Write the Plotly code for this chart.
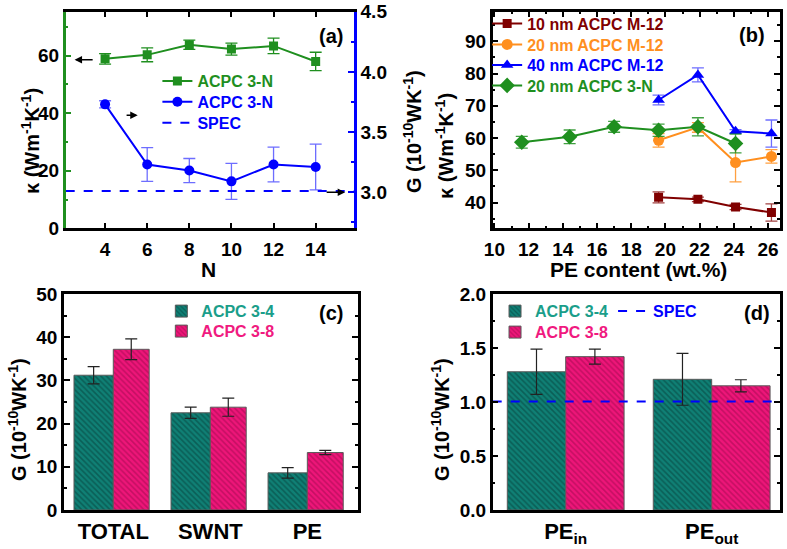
import plotly.graph_objects as go

W, H = 787, 549

# ---------------- data ----------------
# Panel (a)
n_vals = [4, 6, 8, 10, 12, 14]
kappa_a = [58.9, 60.3, 63.8, 62.3, 63.4, 58.0]
kappa_a_err = [1.8, 2.4, 1.6, 2.1, 2.7, 3.2]
g_a = [3.73, 3.23, 3.18, 3.09, 3.23, 3.21]
g_a_err = [0.03, 0.14, 0.10, 0.15, 0.145, 0.19]
spec_g_a = 3.01

# Panel (b)
pe_3n = [11.6, 14.4, 17.0, 19.6, 21.9, 24.1]
kappa_3n = [58.7, 60.4, 63.5, 62.4, 63.5, 58.3]
kappa_3n_err = [1.8, 2.1, 1.7, 1.9, 2.8, 2.9]
pe_m12 = [19.6, 21.9, 24.1, 26.2]
kappa_10nm = [41.6, 41.0, 38.6, 36.9]
kappa_10nm_err = [1.7, 0.7, 0.8, 2.7]
kappa_20nm = [59.3, 63.3, 52.4, 54.3]
kappa_20nm_err = [2.1, 1.5, 6.0, 2.1]
kappa_40nm = [71.8, 79.6, 62.1, 61.4]
kappa_40nm_err = [1.5, 2.2, 0.5, 4.2]

# Panel (c)
cats_c = ["TOTAL", "SWNT", "PE"]
g_c_34 = [31.2, 22.5, 8.6]
g_c_34_err = [2.0, 1.3, 1.2]
g_c_38 = [37.2, 23.8, 13.3]
g_c_38_err = [2.4, 2.1, 0.5]

# Panel (d)
cats_d = ["PE<sub>in</sub>", "PE<sub>out</sub>"]
g_d_34 = [1.28, 1.21]
g_d_34_err = [0.21, 0.24]
g_d_38 = [1.42, 1.15]
g_d_38_err = [0.07, 0.056]
spec_g_d = 1.005

# ---------------- styles ----------------
GREEN = "#1F8F1F"
BLUE = "#0000FF"
DRED = "#800000"
ORANGE = "#FF8F1F"
TEAL = "#0F8075"
TEAL_DK = "#063E39"
TEAL_TXT = "#1A9E8A"
PINK = "#EE1579"
PINK_DK = "#9A0A4C"
PINK_TXT = "#F01A7F"
FAM = "Liberation Sans, Arial, sans-serif"
TICKF = dict(family=FAM, size=19, color="black", weight="bold")
LEGF = dict(family=FAM, size=16, color="black", weight="bold")

xr_a = [2.13, 15.82]
xr_b = [9.9, 26.7]
xr_c = [-0.508, 2.519]
xr_d = [-0.5, 1.468]


def px(x):
    return x / W


def py(y):
    return 1 - y / H


def col(c, t):
    return f'<span style="color:{c}">{t}</span>'


fig = go.Figure()

# ---- (a) ----
fig.add_trace(go.Scatter(
    x=n_vals, y=kappa_a, xaxis="x", yaxis="y", mode="lines+markers",
    name=col(GREEN, "ACPC 3-N"), legend="legend",
    line=dict(color=GREEN, width=2), marker=dict(symbol="square", size=9, color=GREEN),
    error_y=dict(type="data", array=kappa_a_err, color=GREEN, thickness=1.3, width=6)))
fig.add_trace(go.Scatter(
    x=n_vals, y=g_a, xaxis="x", yaxis="y2", mode="lines+markers",
    name=col(BLUE, "ACPC 3-N"), legend="legend2",
    line=dict(color=BLUE, width=2), marker=dict(symbol="circle", size=10, color=BLUE),
    error_y=dict(type="data", array=g_a_err, color="rgba(60,60,255,0.75)", thickness=1.3, width=6)))
fig.add_trace(go.Scatter(
    x=xr_a, y=[spec_g_a, spec_g_a], xaxis="x", yaxis="y2", mode="lines",
    name=col(BLUE, "SPEC"), legend="legend3",
    line=dict(color=BLUE, width=2, dash="dash")))

# ---- (b) ----
fig.add_trace(go.Scatter(
    x=pe_m12, y=kappa_10nm, xaxis="x2", yaxis="y3", mode="lines+markers",
    name=col(DRED, "10 nm ACPC M-12"), legend="legend4",
    line=dict(color=DRED, width=2), marker=dict(symbol="square", size=9, color=DRED),
    error_y=dict(type="data", array=kappa_10nm_err, color="rgba(128,0,0,0.75)", thickness=1.3, width=6)))
fig.add_trace(go.Scatter(
    x=pe_m12, y=kappa_20nm, xaxis="x2", yaxis="y3", mode="lines+markers",
    name=col(ORANGE, "20 nm ACPC M-12"), legend="legend5",
    line=dict(color=ORANGE, width=2), marker=dict(symbol="circle", size=11, color=ORANGE),
    error_y=dict(type="data", array=kappa_20nm_err, color="rgba(255,143,31,0.85)", thickness=1.3, width=6)))
fig.add_trace(go.Scatter(
    x=pe_m12, y=kappa_40nm, xaxis="x2", yaxis="y3", mode="lines+markers",
    name=col(BLUE, "40 nm ACPC M-12"), legend="legend6",
    line=dict(color=BLUE, width=2), marker=dict(symbol="triangle-up", size=11, color=BLUE),
    error_y=dict(type="data", array=kappa_40nm_err, color="rgba(60,60,255,0.75)", thickness=1.3, width=6)))
fig.add_trace(go.Scatter(
    x=pe_3n, y=kappa_3n, xaxis="x2", yaxis="y3", mode="lines+markers",
    name=col(GREEN, "20 nm ACPC 3-N"), legend="legend7",
    line=dict(color=GREEN, width=2), marker=dict(symbol="diamond", size=12, color=GREEN),
    error_y=dict(type="data", array=kappa_3n_err, color="rgba(31,143,31,0.85)", thickness=1.3, width=6)))

# ---- (c) ----
bar_line = dict(color="#5a5a5a", width=1)
fig.add_trace(go.Bar(
    x=list(range(len(cats_c))), y=g_c_34, xaxis="x3", yaxis="y4",
    name=col(TEAL_TXT, "ACPC 3-4"), legend="legend8",
    offset=-0.405, width=0.405,
    marker=dict(color=TEAL, line=bar_line,
                pattern=dict(shape="\\", fgcolor=TEAL_DK, bgcolor=TEAL, size=4, solidity=0.4)),
    error_y=dict(type="data", array=g_c_34_err, color="#222222", thickness=1.2, width=6)))
fig.add_trace(go.Bar(
    x=list(range(len(cats_c))), y=g_c_38, xaxis="x3", yaxis="y4",
    name=col(PINK_TXT, "ACPC 3-8"), legend="legend9",
    offset=0.0, width=0.37,
    marker=dict(color=PINK, line=bar_line,
                pattern=dict(shape="\\", fgcolor=PINK_DK, bgcolor=PINK, size=4, solidity=0.4)),
    error_y=dict(type="data", array=g_c_38_err, color="#222222", thickness=1.2, width=6)))

# ---- (d) ----
fig.add_trace(go.Bar(
    x=list(range(len(cats_d))), y=g_d_34, xaxis="x4", yaxis="y5",
    name=col(TEAL_TXT, "ACPC 3-4"), legend="legend10",
    offset=-0.4, width=0.4,
    marker=dict(color=TEAL, line=bar_line,
                pattern=dict(shape="\\", fgcolor=TEAL_DK, bgcolor=TEAL, size=4, solidity=0.4)),
    error_y=dict(type="data", array=g_d_34_err, color="#222222", thickness=1.2, width=6)))
fig.add_trace(go.Bar(
    x=list(range(len(cats_d))), y=g_d_38, xaxis="x4", yaxis="y5",
    name=col(PINK_TXT, "ACPC 3-8"), legend="legend11",
    offset=0.0, width=0.4,
    marker=dict(color=PINK, line=bar_line,
                pattern=dict(shape="\\", fgcolor=PINK_DK, bgcolor=PINK, size=4, solidity=0.4)),
    error_y=dict(type="data", array=g_d_38_err, color="#222222", thickness=1.2, width=6)))
fig.add_trace(go.Scatter(
    x=xr_d, y=[spec_g_d, spec_g_d], xaxis="x4", yaxis="y5", mode="lines",
    name=col(BLUE, "SPEC"), legend="legend12",
    line=dict(color=BLUE, width=2, dash="dash")))

# ---------------- axes ----------------
common = dict(showgrid=False, zeroline=False, ticks="inside", tickfont=TICKF,
              linewidth=2.5, ticklen=6, tickwidth=2, showline=True, automargin=False)

dom_a_x = [px(65.7), px(354)]
dom_b_x = [px(492.7), px(780)]
dom_c_x = [px(64), px(357.7)]
dom_top_y = [py(228.3), py(11.7)]
dom_bot_y = [py(510), py(294)]

fig.update_layout(
    xaxis=dict(common, domain=dom_a_x, anchor="y", range=xr_a, tickvals=n_vals,
               linecolor="black", tickcolor="black", mirror="ticks", ticklabelstandoff=2),
    yaxis=dict(common, domain=dom_top_y, anchor="x", range=[0, 75.3], dtick=20,
               linecolor=GREEN, tickcolor=GREEN,
               minor=dict(dtick=10, ticks="inside", ticklen=3, tickcolor=GREEN, tickwidth=2)),
    yaxis2=dict(common, overlaying="y", side="right", anchor="x", range=[2.7, 4.5], dtick=0.5,
                tickformat=".1f", linecolor=BLUE, tickcolor=BLUE,
                minor=dict(dtick=0.25, ticks="inside", ticklen=3, tickcolor=BLUE, tickwidth=2)),
    xaxis2=dict(common, domain=dom_b_x, anchor="y3", range=xr_b, dtick=2,
                linecolor="black", tickcolor="black", mirror="ticks", ticklabelstandoff=2,
                minor=dict(dtick=1, ticks="inside", ticklen=3, tickwidth=2)),
    yaxis3=dict(common, domain=dom_top_y, anchor="x2", range=[32, 99.2], dtick=10,
                linecolor="black", tickcolor="black", mirror="ticks",
                minor=dict(dtick=5, ticks="inside", ticklen=3, tickwidth=2)),
    xaxis3=dict(common, domain=dom_c_x, anchor="y4", range=xr_c,
                tickvals=list(range(len(cats_c))), ticktext=cats_c, ticks="",
                tickfont=dict(TICKF, size=22), ticklabelstandoff=0,
                linecolor="black", mirror=True),
    yaxis4=dict(common, domain=dom_bot_y, anchor="x3", range=[0, 50], dtick=10,
                linecolor="black", tickcolor="black", mirror="ticks",
                minor=dict(dtick=5, ticks="inside", ticklen=3, tickwidth=2)),
    xaxis4=dict(common, domain=dom_b_x, anchor="y5", range=xr_d,
                tickvals=list(range(len(cats_d))), ticktext=cats_d, ticks="",
                tickfont=dict(TICKF, size=22), ticklabelstandoff=0,
                linecolor="black", mirror=True),
    yaxis5=dict(common, domain=dom_bot_y, anchor="x4", range=[0, 2.0], dtick=0.5,
                tickformat=".1f", linecolor="black", tickcolor="black", mirror="ticks",
                minor=dict(dtick=0.25, ticks="inside", ticklen=3, tickwidth=2)),
)

# one legend per row, placed at the row centres of the reference
leg_common = dict(font=LEGF, bgcolor="rgba(0,0,0,0)", borderwidth=0,
                  xanchor="left", yanchor="top", itemwidth=30)
ROW_OFF = 17.5
leg_rows = {
    "legend": (0.2, 81.7), "legend2": (0.2, 102.3), "legend3": (0.2, 123.3),
    "legend4": (0.619, 24), "legend5": (0.619, 45), "legend6": (0.619, 65.7),
    "legend7": (0.619, 86),
    "legend8": (0.205, 311.7), "legend9": (0.205, 331.7),
    "legend10": (0.629, 311.7), "legend11": (0.629, 332.7),
    "legend12": (0.779, 311.7),
}
fig.update_layout({k: dict(leg_common, x=v[0], y=py(v[1] - ROW_OFF)) for k, v in leg_rows.items()})

# ---------------- annotations ----------------
ann = []
TF = dict(family=FAM, size=20, color="black", weight="bold")


def lab(text, x, y, size=20, angle=0):
    ann.append(dict(text=text, x=px(x), y=py(y), xref="paper", yref="paper",
                    showarrow=False, textangle=angle, xanchor="center", yanchor="middle",
                    font=dict(TF, size=size)))


lab("(a)", 331, 36, 20)
lab("(b)", 752, 35, 20)
lab("(c)", 331, 313, 20)
lab("(d)", 757, 313, 20)
lab("N", 208, 269, 21)
lab("PE content (wt.%)", 638, 269, 21)
lab("κ (Wm<sup>-1</sup>K<sup>-1</sup>)", 30, 141, 20, -90)
lab("G (10<sup>-10</sup>WK<sup>-1</sup>)", 412, 132, 20, -90)
lab("κ (Wm<sup>-1</sup>K<sup>-1</sup>)", 445, 146, 20, -90)
lab("G (10<sup>-10</sup>WK<sup>-1</sup>)", 17, 420, 20, -90)
lab("G (10<sup>-10</sup>WK<sup>-1</sup>)", 440, 420, 20, -90)

# arrows in (a)
arrow = dict(text="", showarrow=True, arrowhead=2, arrowsize=1, arrowwidth=1.5,
             arrowcolor="black")
ann.append(dict(arrow, xref="x", yref="y", axref="x", ayref="y",
                x=2.55, y=58.6, ax=3.48, ay=58.6))
ann.append(dict(arrow, xref="x", yref="y2", axref="x", ayref="y2",
                x=5.55, y=3.64, ax=4.95, ay=3.64))
ann.append(dict(arrow, xref="x", yref="y2", axref="x", ayref="y2",
                x=15.4, y=3.0, ax=14.45, ay=3.0))

fig.update_layout(
    annotations=ann,
    width=W, height=H,
    margin=dict(l=0, r=0, t=0, b=0),
    paper_bgcolor="white", plot_bgcolor="rgba(0,0,0,0)",
    font=dict(family=FAM, color="black", weight="bold"),
    showlegend=True,
)

fig.write_html("out.html", config={"displayModeBar": False},
               post_script="document.body.style.margin='0';document.body.style.overflow='hidden';")
